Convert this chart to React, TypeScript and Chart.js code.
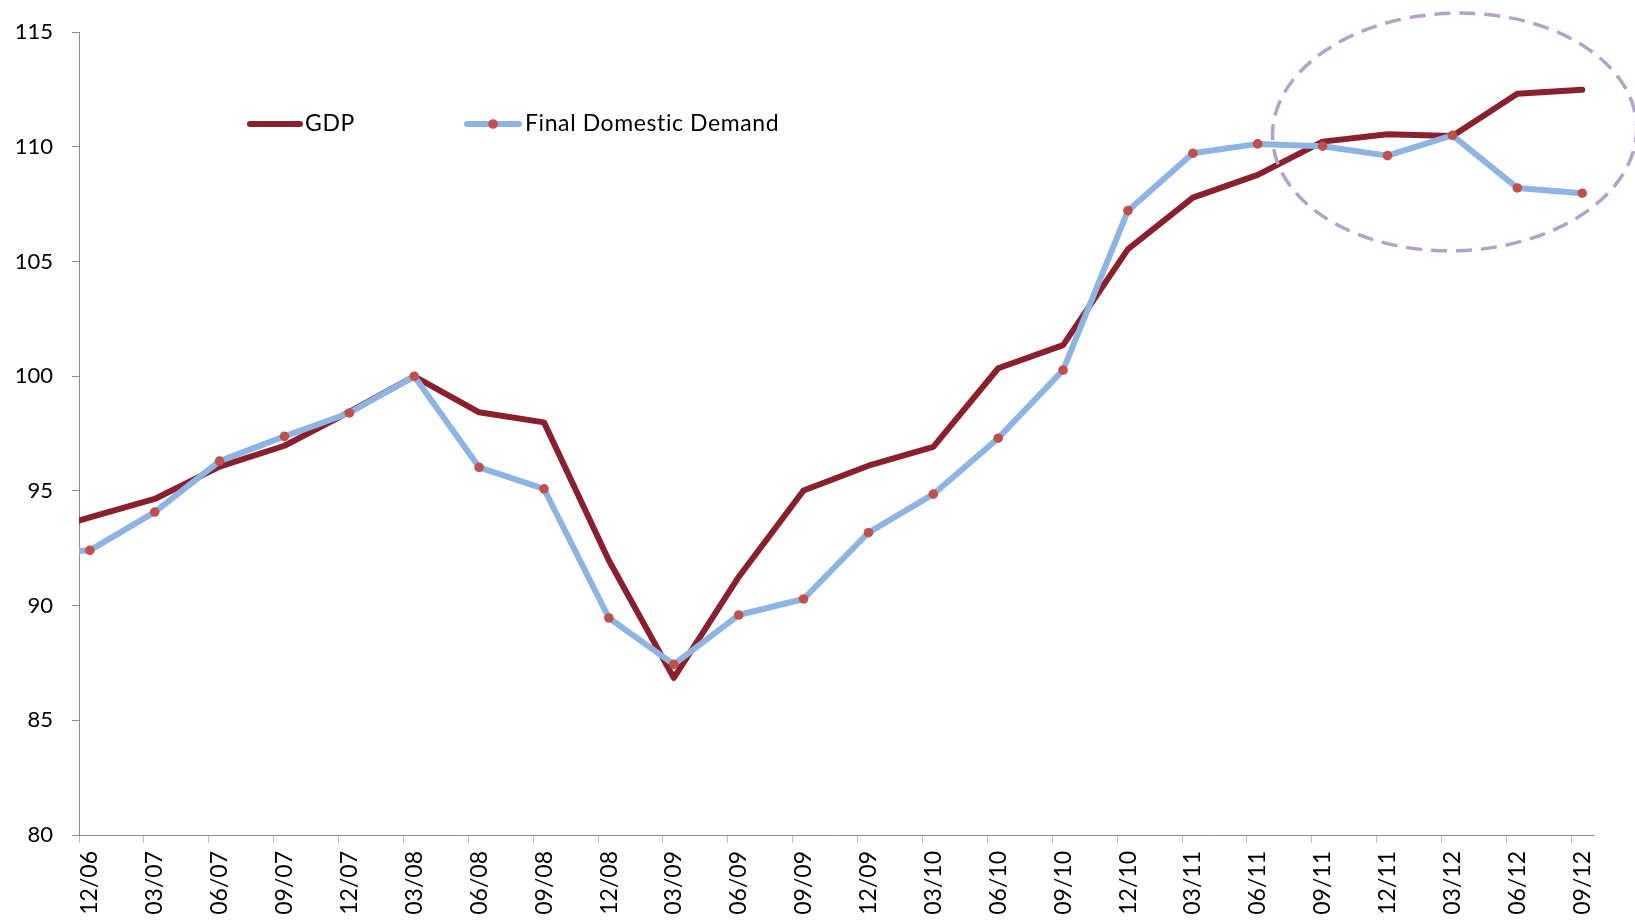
import React, { useEffect, useRef } from "react";
import { Chart, registerables } from "chart.js";

Chart.register(...registerables);

// Quarter-end periods (MM/YY). The first one only feeds the line entering at the left edge.
const quarters = [
  "09/06", "12/06", "03/07", "06/07", "09/07", "12/07", "03/08", "06/08", "09/08",
  "12/08", "03/09", "06/09", "09/09", "12/09", "03/10", "06/10", "09/10", "12/10",
  "03/11", "06/11", "09/11", "12/11", "03/12", "06/12", "09/12",
];

// Index, 03/08 = 100
const gdp = [
  93.0, 93.85, 94.65, 96.06, 96.97, 98.45, 100.0, 98.43, 97.99,
  91.97, 86.85, 91.25, 95.02, 96.1, 96.92, 100.35, 101.36, 105.54,
  107.79, 108.78, 110.23, 110.55, 110.47, 112.32, 112.49,
];

const finalDomesticDemand = [
  92.25, 92.41, 94.08, 96.3, 97.38, 98.4, 100.0, 96.03, 95.09,
  89.46, 87.44, 89.59, 90.29, 93.18, 94.86, 97.3, 100.27, 107.22,
  109.72, 110.13, 110.03, 109.62, 110.5, 108.21, 107.98,
];

const yMin = 80;
const yMax = 115;
const yStep = 5;

const FONT = "Lato, 'Open Sans', sans-serif";
const GDP_COLOR = "#8A1F2D";
const FDD_COLOR = "#8DB4E2";
const MARKER_COLOR = "#C0504D";
const RING_COLOR = "#B3A3C9";

// The x axis runs in months from the start of Dec 2006; each observation sits mid-month.
const AXIS_MONTHS = 70;
const monthOf = (i: number) => (i - 1) * 3 + 0.5;

const toPoints = (values: number[]) => values.map((v, i) => ({ x: monthOf(i), y: v }));

const legendPlugin = {
  id: "inlineLegend",
  afterDraw(chart: any) {
    const ctx = chart.ctx;
    ctx.save();
    ctx.lineCap = "round";
    ctx.lineWidth = 6;
    const y = 124;
    // GDP entry
    ctx.strokeStyle = GDP_COLOR;
    ctx.beginPath();
    ctx.moveTo(250, y);
    ctx.lineTo(300, y);
    ctx.stroke();
    // Final Domestic Demand entry
    ctx.strokeStyle = FDD_COLOR;
    ctx.beginPath();
    ctx.moveTo(467, y);
    ctx.lineTo(519, y);
    ctx.stroke();
    ctx.fillStyle = MARKER_COLOR;
    ctx.beginPath();
    ctx.arc(493, y, 4.8, 0, Math.PI * 2);
    ctx.fill();

    ctx.fillStyle = "#000";
    ctx.font = `23px ${FONT}`;
    (ctx as any).letterSpacing = "0.6px";
    ctx.textBaseline = "middle";
    ctx.textAlign = "left";
    ctx.fillText("GDP", 305, y);
    ctx.fillText("Final Domestic Demand", 525, y);
    ctx.restore();
  },
};

// Dashed ring highlighting the last four quarters
const ringPlugin = {
  id: "highlightRing",
  afterDatasetsDraw(chart: any) {
    const { ctx, scales } = chart;
    const xs = scales.x;
    const ys = scales.y;
    const cx = xs.getPixelForValue(63.6);
    const cy = ys.getPixelForValue(110.65);
    const rx = xs.getPixelForValue(63.6 + 8.42) - cx;
    const ry = ys.getPixelForValue(110.65) - ys.getPixelForValue(110.65 + 5.18);
    ctx.save();
    ctx.strokeStyle = RING_COLOR;
    ctx.lineWidth = 3.5;
    ctx.setLineDash([16, 9]);
    ctx.beginPath();
    ctx.ellipse(cx, cy, rx, ry, -0.03, 0, Math.PI * 2);
    ctx.stroke();
    ctx.restore();
  },
};

function LineChart() {
  const canvasRef = useRef<HTMLCanvasElement | null>(null);

  useEffect(() => {
    const canvas = canvasRef.current;
    if (!canvas) return;
    const chart = new Chart(canvas, {
      type: "line",
      data: {
        datasets: [
          {
            label: "GDP",
            data: toPoints(gdp),
            borderColor: GDP_COLOR,
            borderWidth: 6,
            borderJoinStyle: "round",
            borderCapStyle: "round",
            pointRadius: 0,
            fill: false,
            tension: 0,
            order: 2,
          },
          {
            label: "Final Domestic Demand",
            data: toPoints(finalDomesticDemand),
            borderColor: FDD_COLOR,
            borderWidth: 6,
            borderJoinStyle: "round",
            borderCapStyle: "round",
            pointRadius: 4.8,
            pointBackgroundColor: MARKER_COLOR,
            pointBorderWidth: 0,
            pointBorderColor: MARKER_COLOR,
            fill: false,
            tension: 0,
            order: 1,
          },
        ],
      },
      options: {
        animation: false,
        responsive: false,
        devicePixelRatio: 1,
        parsing: false,
        layout: { padding: { top: 31, right: 42, left: 0, bottom: 0 } },
        plugins: {
          legend: { display: false },
          tooltip: { enabled: false },
        },
        events: [],
        scales: {
          x: {
            type: "linear",
            min: 0,
            max: AXIS_MONTHS,
            afterBuildTicks: (scale: any) => {
              scale.ticks = quarters.slice(1).map((_, i) => ({ value: i * 3 }));
            },
            afterFit: (scale: any) => {
              scale.height = 88;
            },
            ticks: {
              autoSkip: false,
              minRotation: 90,
              maxRotation: 90,
              labelOffset: 11,
              padding: 8,
              color: "#000",
              font: { family: FONT, size: 23 },
              callback: (value: any) => quarters[Math.round(value / 3) + 1] ?? "",
            },
            grid: {
              display: true,
              drawOnChartArea: false,
              drawTicks: true,
              tickLength: 8,
              tickColor: "#BDBDBD",
              lineWidth: 1,
            },
            border: { display: true, color: "#8C8C8C", width: 1 },
          },
          y: {
            type: "linear",
            min: yMin,
            max: yMax,
            afterFit: (scale: any) => {
              scale.width = 79;
            },
            ticks: {
              stepSize: yStep,
              padding: 19,
              color: "#000",
              font: { family: FONT, size: 22 },
            },
            grid: {
              display: true,
              drawOnChartArea: false,
              drawTicks: true,
              tickLength: 7,
              tickColor: "#8C8C8C",
            },
            border: { display: true, color: "#8C8C8C", width: 1 },
          },
        },
      },
      plugins: [ringPlugin, legendPlugin],
    } as any);
    return () => chart.destroy();
  }, []);

  return <canvas ref={canvasRef} width={1635} height={923} style={{ display: "block" }} />;
}

export default function App() {
  return (
    <div style={{ position: "fixed", left: 0, top: 0, width: 1635, height: 923, background: "#fff" }}>
      <LineChart />
    </div>
  );
}
